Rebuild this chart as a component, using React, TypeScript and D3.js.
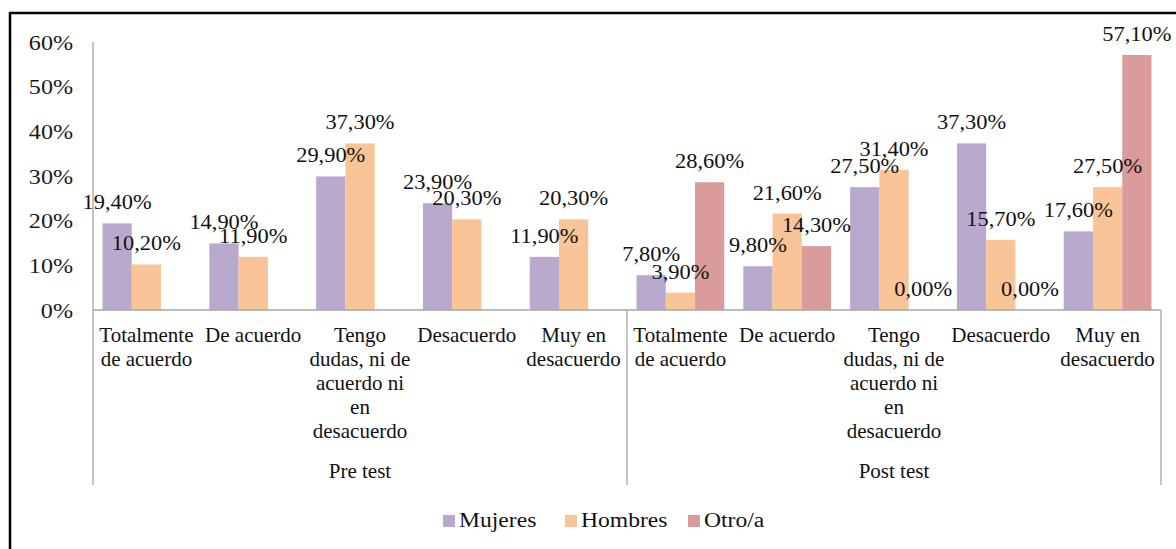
import React, { useRef, useEffect } from 'react';
import * as d3 from 'd3';

const groups = ['Pre test', 'Post test'];
const categoryLines = [
    ['Totalmente', 'de acuerdo'],
    ['De acuerdo'],
    ['Tengo', 'dudas, ni de', 'acuerdo ni', 'en', 'desacuerdo'],
    ['Desacuerdo'],
    ['Muy en', 'desacuerdo'],
];
const seriesNames = ['Mujeres', 'Hombres', 'Otro/a'];
const mujeres = [19.4, 14.9, 29.9, 23.9, 11.9, 7.8, 9.8, 27.5, 37.3, 17.6];
const hombres = [10.2, 11.9, 37.3, 20.3, 20.3, 3.9, 21.6, 31.4, 15.7, 27.5];
const otro: (number | null)[] = [null, null, null, null, null, 28.6, 14.3, 0, 0, 57.1];
const yTicks = [0, 10, 20, 30, 40, 50, 60];
const colors = ['#b9aacd', '#f9c598', '#da9b9b'];

const FONT = 'Liberation Serif, Times New Roman, serif';

// widen glyphs the way the reference picture is stretched
function stretch(sel: d3.Selection<any, any, any, any>, factor: number) {
    sel.each(function () {
        const el = this as SVGTextElement;
        const w = el.getComputedTextLength();
        el.setAttribute('textLength', String(w * factor));
        el.setAttribute('lengthAdjust', 'spacingAndGlyphs');
    });
}

const BarChart = () => {
    const svgRef = useRef<SVGSVGElement>(null);

    useEffect(() => {
        const svg = d3.select(svgRef.current);
        svg.selectAll('*').remove();

        const left = 93, right = 1161, top = 42, bottom = 310;
        const values = [mujeres, hombres, otro];
        const keys = d3.range(groups.length * categoryLines.length).map(String);

        const x0 = d3.scaleBand<string>().domain(keys).range([left, right]).padding(0);
        const x1 = d3.scaleBand<string>()
            .domain(seriesNames)
            .range([0, x0.bandwidth()])
            .paddingInner(0)
            .paddingOuter(0.325);
        const y = d3.scaleLinear().domain([0, 60]).range([bottom, top]);

        // frame (only top and left edges are visible)
        svg.append('line').attr('x1', 10).attr('x2', 1176).attr('y1', 13).attr('y2', 13)
            .attr('stroke', '#000').attr('stroke-width', 2.5);
        svg.append('line').attr('x1', 10).attr('x2', 10).attr('y1', 12).attr('y2', 549)
            .attr('stroke', '#000').attr('stroke-width', 2.5);

        const flat: { key: string; s: string; v: number | null; si: number }[] = [];
        keys.forEach((k, i) => {
            seriesNames.forEach((s, si) => flat.push({ key: k, s, v: values[si][i], si }));
        });
        const present = flat.filter(d => d.v !== null) as { key: string; s: string; v: number; si: number }[];

        // bars
        svg.append('g')
            .selectAll('rect')
            .data(present)
            .join('rect')
            .attr('x', d => x0(d.key)! + x1(d.s)!)
            .attr('y', d => y(d.v))
            .attr('width', x1.bandwidth())
            .attr('height', d => bottom - y(d.v))
            .attr('fill', d => colors[d.si]);

        // axes lines
        const axisColor = '#a6a6a6';
        svg.append('line').attr('x1', left).attr('x2', left).attr('y1', top).attr('y2', bottom)
            .attr('stroke', axisColor).attr('stroke-width', 1.3);
        svg.append('line').attr('x1', left).attr('x2', right).attr('y1', bottom).attr('y2', bottom)
            .attr('stroke', axisColor).attr('stroke-width', 1.3);
        [left, x0(String(categoryLines.length))!, right].forEach(xv => {
            svg.append('line').attr('x1', xv).attr('x2', xv).attr('y1', bottom).attr('y2', 485)
                .attr('stroke', axisColor).attr('stroke-width', 1.3);
        });

        // y tick labels
        const ticks = svg.append('g')
            .selectAll('text')
            .data(yTicks)
            .join('text')
            .attr('x', 73)
            .attr('y', d => y(d) + 7.5)
            .attr('text-anchor', 'end')
            .attr('font-family', FONT)
            .attr('font-size', 21.5)
            .attr('fill', '#1a1a1a')
            .text(d => `${d}%`);
        stretch(ticks, 1.12);

        // data labels
        const labels = svg.append('g')
            .selectAll('text')
            .data(present)
            .join('text')
            .attr('x', d => x0(d.key)! + x1(d.s)! + x1.bandwidth() / 2)
            .attr('y', d => y(d.v) - 14)
            .attr('text-anchor', 'middle')
            .attr('font-family', FONT)
            .attr('font-size', 20)
            .attr('fill', '#111')
            .text(d => d.v.toFixed(2).replace('.', ',') + '%');
        stretch(labels, 1.12);

        // category labels
        keys.forEach((k, i) => {
            const lines = categoryLines[i % categoryLines.length];
            const t = svg.append('text')
                .attr('text-anchor', 'middle')
                .attr('font-family', FONT)
                .attr('font-size', 21)
                .attr('fill', '#111');
            lines.forEach((ln, li) => {
                t.append('tspan')
                    .attr('x', x0(k)! + x0.bandwidth() / 2)
                    .attr('y', 342 + li * 24)
                    .text(ln);
            });
        });

        // group labels
        groups.forEach((g, gi) => {
            const a = x0(String(gi * categoryLines.length))!;
            const b = gi === groups.length - 1 ? right : x0(String((gi + 1) * categoryLines.length))!;
            svg.append('text')
                .attr('x', (a + b) / 2)
                .attr('y', 478)
                .attr('text-anchor', 'middle')
                .attr('font-family', FONT)
                .attr('font-size', 21)
                .attr('fill', '#111')
                .text(g);
        });

        // legend
        const legendX = [443, 565, 688];
        const legend = svg.append('g');
        seriesNames.forEach((s, i) => {
            legend.append('rect')
                .attr('x', legendX[i])
                .attr('y', 515)
                .attr('width', 12)
                .attr('height', 12)
                .attr('fill', colors[i]);
            const t = legend.append('text')
                .attr('x', legendX[i] + 16)
                .attr('y', 527)
                .attr('font-family', FONT)
                .attr('font-size', 20)
                .attr('fill', '#111')
                .text(s);
            stretch(t, 1.18);
        });
    }, []);

    return (
        <svg
            ref={svgRef}
            width={1176}
            height={549}
            style={{ position: 'absolute', left: 0, top: 0, background: '#fff' }}
        ></svg>
    );
};

export default function App() {
    return <BarChart />;
}
